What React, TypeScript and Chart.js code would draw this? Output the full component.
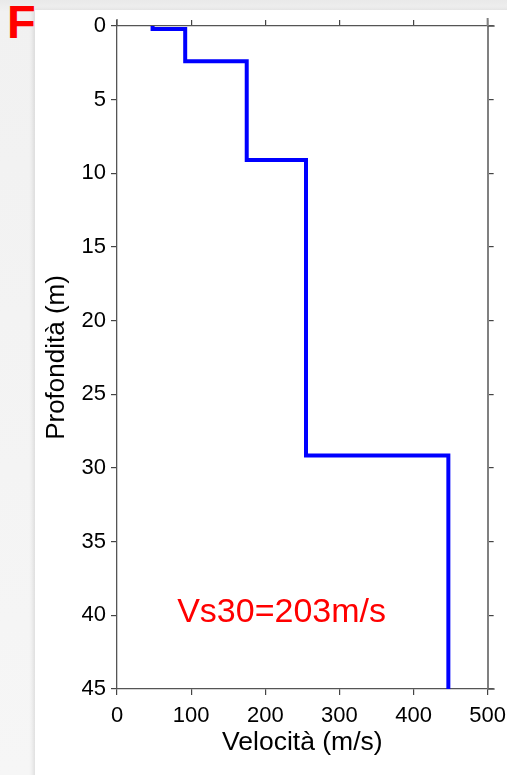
import React, { useEffect, useRef } from "react";
import { Chart, registerables } from "chart.js";

Chart.register(...registerables);

// Layered shear-wave velocity profile (m/s) and layer top depths (m)
const layerVelocity = [48, 92, 175, 255, 447];
const layerTopDepth = [0, 0.2, 2.4, 9.1, 29.15];
const maxDepth = 45;

const xMin = 0;
const xMax = 500;
const xStep = 100;
const yMin = 0;
const yMax = 45;
const yStep = 5;

const xTitle = "Velocità (m/s)";
const yTitle = "Profondità (m)";
const vsLabel = "Vs30=203m/s";
const vsLabelAt = { x: 222, y: 39.85 };
const panelLetter = "F";

const FONT = '"Liberation Sans", Arial, Helvetica, sans-serif';

function buildProfile() {
  const pts: { x: number; y: number }[] = [];
  for (let i = 0; i < layerVelocity.length; i++) {
    const top = layerTopDepth[i];
    const bottom = i + 1 < layerTopDepth.length ? layerTopDepth[i + 1] : maxDepth;
    pts.push({ x: layerVelocity[i], y: top });
    pts.push({ x: layerVelocity[i], y: bottom });
  }
  return pts;
}

const extrasPlugin = {
  id: "extras",
  afterDraw(chart: any) {
    const { ctx, chartArea, scales } = chart;
    ctx.save();
    ctx.strokeStyle = "#555";
    ctx.lineWidth = 1.3;
    ctx.beginPath();
    ctx.moveTo(chartArea.left, chartArea.top - 7);
    ctx.lineTo(chartArea.left, chartArea.top);
    ctx.moveTo(chartArea.right, chartArea.top);
    ctx.lineTo(chartArea.right + 7, chartArea.top);
    ctx.moveTo(chartArea.right, chartArea.bottom);
    ctx.lineTo(chartArea.right + 7, chartArea.bottom);
    ctx.stroke();
    ctx.strokeStyle = "#808080";
    ctx.lineWidth = 2;
    ctx.beginPath();
    ctx.moveTo(chartArea.right, chartArea.top - 8);
    ctx.lineTo(chartArea.right, chartArea.top);
    ctx.stroke();

    ctx.font = `34px ${FONT}`;
    ctx.fillStyle = "#ff0000";
    ctx.textAlign = "center";
    ctx.textBaseline = "middle";
    ctx.fillText(
      vsLabel,
      scales.x.getPixelForValue(vsLabelAt.x),
      scales.y.getPixelForValue(vsLabelAt.y)
    );
    ctx.restore();
  },
};

export default function App() {
  const canvasRef = useRef<HTMLCanvasElement | null>(null);

  useEffect(() => {
    const canvas = canvasRef.current;
    if (!canvas) return;
    const tickFont = { family: FONT, size: 22 };
    const gridOpts = {
      drawOnChartArea: false,
      drawTicks: true,
      tickLength: 6,
      color: "#444",
      lineWidth: 1.2,
    };
    const chart = new Chart(canvas, {
      type: "scatter",
      data: {
        datasets: [
          {
            data: buildProfile(),
            showLine: true,
            borderColor: "#0000ff",
            backgroundColor: "#0000ff",
            borderWidth: 4,
            pointRadius: 0,
            borderJoinStyle: "miter",
            borderCapStyle: "square",
            tension: 0,
            fill: false,
          } as any,
        ],
      },
      options: {
        animation: false,
        responsive: false,
        devicePixelRatio: 1,
        layout: { padding: 0, autoPadding: false } as any,
        plugins: {
          legend: { display: false },
          tooltip: { enabled: false },
        },
        scales: {
          x: {
            type: "linear",
            position: "bottom",
            min: xMin,
            max: xMax,
            ticks: {
              stepSize: xStep,
              color: "#000",
              font: tickFont,
              padding: 8,
              maxRotation: 0,
            },
            grid: gridOpts,
            border: { display: true, color: "#555", width: 1.3 },
            title: {
              display: true,
              text: xTitle,
              color: "#000",
              font: { family: FONT, size: 26.5 },
              padding: { top: 0, bottom: 16 },
            },
            afterFit(s: any) {
              s.height = 86;
            },
          },
          x2: {
            type: "linear",
            position: "top",
            min: xMin,
            max: xMax,
            ticks: { stepSize: xStep, display: false },
            grid: gridOpts,
            border: { display: true, color: "#555", width: 1.3 },
            afterFit(s: any) {
              s.height = 26;
            },
          },
          y: {
            type: "linear",
            position: "left",
            reverse: true,
            min: yMin,
            max: yMax,
            ticks: {
              stepSize: yStep,
              color: "#000",
              font: tickFont,
              padding: 5,
            },
            grid: gridOpts,
            border: { display: true, color: "#555", width: 1.3 },
            title: {
              display: true,
              text: yTitle,
              color: "#000",
              font: { family: FONT, size: 26 },
              padding: { top: 41, bottom: 0 },
            },
            afterFit(s: any) {
              s.width = 117;
            },
          },
          y2: {
            type: "linear",
            position: "right",
            reverse: true,
            min: yMin,
            max: yMax,
            ticks: { stepSize: yStep, display: false },
            grid: gridOpts,
            border: { display: true, color: "#808080", width: 2 },
            afterFit(s: any) {
              s.width = 26;
            },
          },
        },
      } as any,
      plugins: [extrasPlugin],
    });
    return () => chart.destroy();
  }, []);

  return (
    <div
      style={{
        position: "fixed",
        left: 0,
        top: 0,
        width: 507,
        height: 775,
        overflow: "hidden",
        background: "linear-gradient(to bottom, #e9e9e9 0px, #f1f1f1 12px, #f6f6f6 100%)",
      }}
    >
      <div
        style={{
          position: "absolute",
          left: 35,
          top: 10,
          width: 480,
          height: 780,
          background: "#ffffff",
          boxShadow: "-2px 0 4px rgba(0,0,0,0.10)",
        }}
      />
      <div
        style={{
          position: "absolute",
          left: 7,
          top: -2,
          fontFamily: FONT,
          fontWeight: "bold",
          fontSize: 47,
          lineHeight: 1,
          color: "#ff0000",
        }}
      >
        {panelLetter}
      </div>
      <canvas
        ref={canvasRef}
        width={514}
        height={775}
        style={{ position: "absolute", left: 0, top: 0, width: 514, height: 775 }}
      />
    </div>
  );
}
